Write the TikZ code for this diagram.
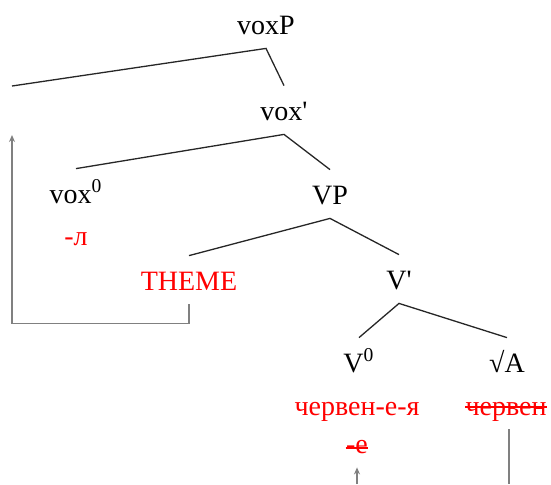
\documentclass[tikz,border=0pt]{standalone}
\usepackage{fontspec}
\setmainfont{Liberation Serif}
\usetikzlibrary{arrows.meta}

\tikzset{
  lbl/.style={anchor=base,text height=10pt,text depth=0pt,inner xsep=0pt,inner ysep=7pt,text=black},
  gl/.style={anchor=base,text height=8pt,text depth=3pt,inner xsep=0pt,inner ysep=4pt,text=red},
  strike/.style={draw=red,line width=0.6pt},
  branch/.style={draw=black!85,line width=0.65pt},
  move/.style={draw=black!50,line width=0.65pt,>={Stealth[length=3.5pt,width=3pt]}}
}

\begin{document}
\begin{tikzpicture}[x=0.5pt,y=-0.5pt,font=\fontsize{14}{16}\selectfont]
\useasboundingbox (0,0) rectangle (551,484);

% labels:
\path (266,34) node[lbl] (voxP) {voxP};
\coordinate (spec) at (12,86);
\coordinate (specfoot) at (12,135);
\path (284,120) node[lbl] (voxbar) {vox\textquotesingle};
\path (76,203) node[lbl] (vox0) {vox\textsuperscript{0}};
\path (76,245) node[gl] (el) {-л};
\path (330,204) node[lbl] (VP) {VP};
\path (189,290) node[lbl,text=red] (theme) {THEME};
\path (399,289) node[lbl] (Vbar) {V\textquotesingle};
\path (359,372) node[lbl] (V0) {V\textsuperscript{0}};
\path (507,372) node[lbl] (rootA) {√A};
\path (357,415) node[gl] (verb) {червен-е-я};
\path (506,415) node[gl] (root) {червен};
\path (357,453) node[gl] (eh) {-е};
\coordinate (vfoot) at (357,484);
\coordinate (rfoot) at (509,484);

% strike-outs:
\draw[strike] ([yshift=4pt]root.base west) -- ([yshift=4pt]root.base east);
\draw[strike] ([yshift=2.5pt]eh.base west) -- ([yshift=2.5pt]eh.base east);

% branches:
\draw[branch] (spec) -- (voxP.south) -- (voxbar.north);
\draw[branch] (vox0.north) -- (voxbar.south) -- (VP.north);
\draw[branch] (theme.north) -- (VP.south) -- (Vbar.north);
\draw[branch] (V0.north) -- (Vbar.south) -- (rootA.north);

% movement:
\draw[move,->] (theme.south) -- ++(0,19) -| (specfoot);
\draw[move,->] (vfoot) -- (eh.south);
\draw[move] (root.south -| rfoot) -- (rfoot);

\end{tikzpicture}
\end{document}
